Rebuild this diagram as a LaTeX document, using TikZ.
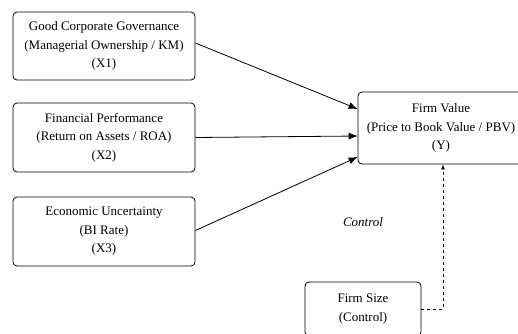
\documentclass[tikz,border=0pt]{standalone}
\usepackage{fontspec}
\setmainfont{Liberation Serif}
\usepackage{tikz}
\usetikzlibrary{arrows,arrows.meta,positioning}
\tikzset{
  varbox/.style={draw,rounded corners=4pt,align=center,thick,
    font=\fontsize{13pt}{18.5pt}\selectfont,inner sep=0pt},
  influence/.style={-{Latex[length=9pt,width=7pt]},thick},
  ctrlarrow/.style={-{Latex[length=5pt,width=4pt]},thick,dash pattern=on 3pt off 3pt}
}
\begin{document}
\begin{tikzpicture}[x=1pt,y=-1pt]
  \useasboundingbox (0,0) rectangle (518,333);
  \clip (0,0) rectangle (518,333);
  % independent variables
  \node[varbox,minimum width=182pt,minimum height=68pt] (gcg) at (104,46)
    {Good Corporate Governance\\(Managerial Ownership / KM)\\(X1)};
  \node[varbox,minimum width=182pt,minimum height=69pt] (roa) at (104,137.5)
    {Financial Performance\\(Return on Assets / ROA)\\(X2)};
  \node[varbox,minimum width=182pt,minimum height=69pt] (unc) at (104,231.5)
    {Economic Uncertainty\\(BI Rate)\\(X3)};
  % dependent and control variables
  \node[varbox,minimum width=166pt,minimum height=72pt] (pbv) at (441,128)
    {Firm Value\\(Price to Book Value / PBV)\\(Y)};
  \node[varbox,minimum width=116pt,minimum height=54pt] (size) at (363,309)
    {Firm Size\\(Control)};
  \node[font=\fontsize{13pt}{15pt}\selectfont\itshape] (ctrl) at (363,222) {Control};
  \draw[influence] ([yshift=3pt]gcg.east) -- ([yshift=19pt]pbv.west);
  \draw[influence] (roa.east) -- ([yshift=-8pt]pbv.west);
  \draw[influence] ([yshift=1pt]unc.east) -- ([yshift=-29pt]pbv.west);
  \draw[ctrlarrow] (size.east) -| ([xshift=2pt]pbv.south);
\end{tikzpicture}
\end{document}
